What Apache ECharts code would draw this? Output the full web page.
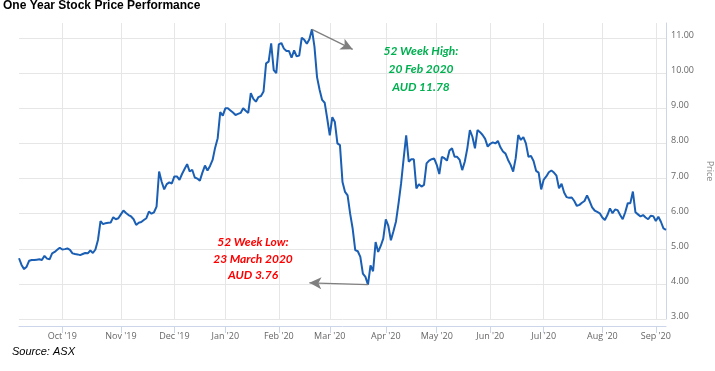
<!DOCTYPE html>
<html><head><meta charset="utf-8">
<script src="https://cdn.jsdelivr.net/npm/echarts@6/dist/echarts.min.js"></script>
<style>html,body{margin:0;padding:0;background:#fff}#c{width:715px;height:371px}</style>
</head><body><div id="c"></div>
<script>
// ---- data ----
const startDate = '2019-09-06';
const endDate = '2020-09-07';
const holidays = ['2019-12-25','2019-12-26','2020-01-01','2020-01-27','2020-04-10','2020-04-13','2020-06-08'];
const prices = [
4.73,4.54,4.42,4.49,4.66,4.68,4.68,4.69,4.70,4.68,
4.80,4.72,4.70,4.87,4.91,4.97,5.03,4.98,4.99,5.01,
4.97,4.87,4.85,4.84,4.82,4.85,4.88,4.87,4.95,4.88,
4.98,5.25,5.79,5.70,5.73,5.74,5.75,5.90,5.84,5.87,
5.98,6.09,6.02,5.96,5.92,5.84,5.68,5.74,5.76,5.82,
5.87,6.06,6.00,6.04,6.20,7.20,6.91,6.69,6.84,6.89,
6.86,7.06,7.06,6.96,7.13,7.27,7.41,7.20,7.25,7.03,
7.00,6.94,7.17,7.37,7.23,7.36,7.53,7.88,8.15,8.89,
8.79,9.00,9.00,8.94,8.88,8.81,8.84,8.87,9.00,8.93,
8.87,9.43,9.27,9.19,9.32,9.35,9.48,10.28,10.33,10.85,
10.09,10.00,10.82,10.86,10.70,10.63,10.63,10.44,10.65,10.48,
10.50,11.01,10.95,10.84,10.97,11.25,10.75,9.89,9.53,9.24,
9.16,8.71,8.23,8.75,8.61,8.00,7.95,6.90,6.62,6.52,
6.00,5.57,4.96,4.93,4.77,4.29,4.20,3.98,4.53,4.36,
5.19,4.91,5.08,5.29,5.84,5.65,5.24,5.50,5.78,6.29,
6.86,7.57,8.23,7.48,7.55,7.55,6.72,6.84,6.77,6.82,
7.43,7.51,7.55,7.57,7.39,7.13,7.62,7.58,7.51,7.80,
7.86,7.62,7.62,7.53,7.24,7.48,7.86,8.38,8.19,7.86,
8.38,8.32,8.24,8.13,7.91,7.99,8.03,8.00,8.07,7.89,
7.77,7.71,7.53,7.39,7.20,7.58,8.24,8.10,8.18,8.00,
7.62,7.64,7.50,7.22,7.17,6.69,6.97,7.06,7.18,7.23,
7.17,7.08,6.72,6.85,6.60,6.47,6.45,6.46,6.36,6.22,
6.25,6.31,6.36,6.52,6.36,6.18,6.09,6.05,6.01,5.89,
5.82,5.96,6.15,6.01,6.12,6.10,5.96,5.84,6.04,6.30,
6.30,6.63,6.04,5.98,5.92,5.96,5.89,5.84,5.94,5.93,
5.79,5.91,5.77,5.58,5.54
];
const monthTicks = ['2019-10-01','2019-11-01','2019-12-02','2020-01-02','2020-02-03','2020-03-02','2020-04-01','2020-05-01','2020-06-01','2020-07-01','2020-08-03','2020-09-01'];
const tickLabels = ["Oct '19","Nov '19","Dec '19","Jan '20","Feb '20","Mar '20","Apr '20","May '20","Jun '20","Jul '20","Aug '20","Sep '20"];
const highDate = '2020-02-20';
const lowDate = '2020-03-23';
const highArrowTip = {date: '2020-03-13', value: 10.68};
const lowArrowTip = {date: '2020-02-19', value: 4.03};
const highText = ['52 Week High:', '20 Feb 2020', 'AUD 11.78'];
const lowText = ['52 Week Low:', '23 March 2020', 'AUD 3.76'];

// trading-day categories
const categories = [];
(function(){
  let d = new Date(startDate + 'T00:00:00Z');
  const end = new Date(endDate + 'T00:00:00Z');
  while (d <= end) {
    const s = d.toISOString().slice(0,10);
    const wd = d.getUTCDay();
    if (wd !== 0 && wd !== 6 && holidays.indexOf(s) < 0) categories.push(s);
    d = new Date(d.getTime() + 86400000);
  }
})();
const isTick = (i, v) => monthTicks.indexOf(v) >= 0;

const chart = echarts.init(document.getElementById('c'), null, {renderer:'canvas'});
chart.setOption({
  animation: false,
  backgroundColor: '#fff',
  title: {text:'One Year Stock Price Performance', left: 3, top: 0, padding: 0,
    textStyle:{fontFamily:'Liberation Sans', fontWeight:'bold', fontSize:12, color:'#000'}},
  grid: {left: 19, right: 49, top: 23, bottom: 52, containLabel:false, outerBoundsMode:'none'},
  xAxis: {
    type:'category', data: categories, boundaryGap:false, offset: 7,
    axisLine:{lineStyle:{color:'#ccd6eb', width:1}},
    axisTick:{interval:isTick, length:7, lineStyle:{color:'#ccd6eb'}},
    axisLabel:{interval:isTick, formatter:v => tickLabels[monthTicks.indexOf(v)] || '', color:'#666', fontSize:9, fontFamily:'Open Sans', margin:6},
    splitLine:{show:true, interval:isTick, lineStyle:{color:'#e6e6e6'}}
  },
  yAxis: {
    type:'value', position:'right', min:3, max:11.43, interval:1,
    axisLine:{show:true, lineStyle:{color:'#ccd6eb'}},
    axisTick:{show:false},
    axisLabel:{formatter:v => Math.abs(v-Math.round(v))<1e-6 ? v.toFixed(2) : '', color:'#666', fontSize:9, fontFamily:'Open Sans', margin:5, verticalAlign:'bottom', lineHeight:5},
    splitLine:{lineStyle:{color:'#e6e6e6'}, showMaxLine:false},
    name:'Price', nameLocation:'middle', nameRotate:-90, nameGap:37,
    nameTextStyle:{color:'#888', fontSize:9, fontFamily:'Open Sans'}
  },
  series: [{
    type:'line', data: prices, showSymbol:false, symbol:'none',
    lineStyle:{color:'#1a5fb4', width:2},
    markLine:{
      silent:true, symbol:['none','arrow'], symbolSize:[9,12],
      lineStyle:{color:'#7f7f7f', width:1.3, type:'solid'},
      label:{show:false},
      data:[
        [{coord:[highDate, prices[categories.indexOf(highDate)]]}, {coord:[highArrowTip.date, highArrowTip.value]}],
        [{coord:[lowDate, prices[categories.indexOf(lowDate)]]}, {coord:[lowArrowTip.date, lowArrowTip.value]}]
      ]
    }
  }],
  graphic: [
    {type:'text', z:100, x:421, y:42, style:{text:highText.join('\n'), fill:'#00b050', font:'italic bold 12px Lato', textAlign:'center', lineHeight:18}},
    {type:'text', z:100, x:253, y:234, style:{text:lowText.join('\n'), fill:'#ff0000', font:'italic bold 12px Lato', textAlign:'center', lineHeight:16.5}},
    {type:'text', z:100, x:12, y:346, style:{text:'Source: ASX', fill:'#000', font:'italic 11px "Liberation Sans"'}}
  ]
});
</script></body></html>
